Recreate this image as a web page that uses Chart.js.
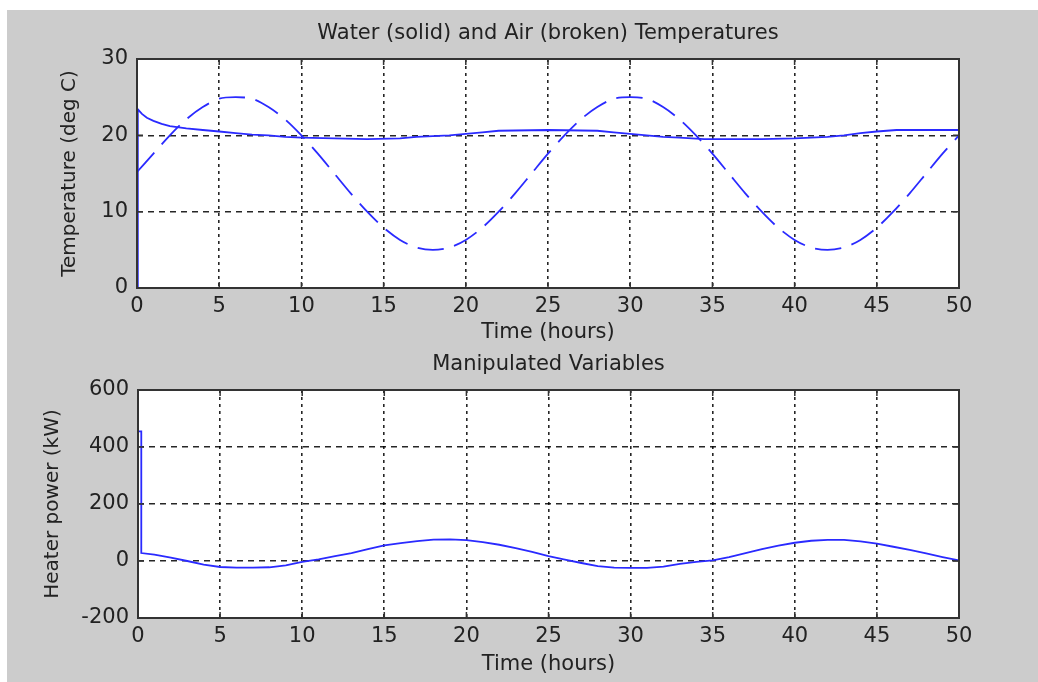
<!DOCTYPE html>
<html>
<head>
<meta charset="utf-8">
<script src="https://cdn.jsdelivr.net/npm/chart.js@4"></script>
<style>
  body { margin: 0; background: #fff; width: 1038px; height: 682px; position: relative; overflow: hidden; }
  #bg { position: absolute; left: 7px; top: 10px; right: 0; bottom: 0; background: #cccccc; }
  canvas { position: absolute; left: 0; }
  #top { top: 0; }
  #bottom { top: 345px; }
</style>
</head>
<body>
<div id="bg"></div>
<canvas id="top" width="1038" height="350"></canvas>
<canvas id="bottom" width="1038" height="337"></canvas>
<script>
// time axis ticks (hours)
const timeTicks = [0, 5, 10, 15, 20, 25, 30, 35, 40, 45, 50];

// water temperature (solid line)
const waterT = [0, 0.05, 0.3, 0.6, 1, 1.5, 2, 3, 4, 5, 6, 7, 8, 9, 10, 12, 14, 16, 17, 19, 20, 21, 22, 25, 28, 29, 30, 31, 32, 33, 34.5, 38, 40, 42, 43, 44, 45, 46.2, 50];
const waterTemp = [0, 23.4, 22.8, 22.3, 21.9, 21.5, 21.2, 20.9, 20.7, 20.5, 20.3, 20.1, 20.0, 19.8, 19.7, 19.6, 19.5, 19.6, 19.8, 20.0, 20.2, 20.4, 20.6, 20.7, 20.6, 20.4, 20.2, 20.0, 19.8, 19.7, 19.5, 19.5, 19.6, 19.8, 20.0, 20.3, 20.5, 20.7, 20.7];

// air temperature (broken line), hourly
const airT = [0, 1, 2, 3, 4, 5, 6, 7, 8, 9, 10, 11, 12, 13, 14, 15, 16, 17, 18, 19, 20, 21, 22, 23, 24, 25,
              26, 27, 28, 29, 30, 31, 32, 33, 34, 35, 36, 37, 38, 39, 40, 41, 42, 43, 44, 45, 46, 47, 48, 49, 50];
const airTemp = [15.2, 17.6, 20.0, 22.1, 23.7, 24.8, 25.0, 24.8, 23.7, 22.1, 20.0, 17.6, 15.0, 12.4, 10.0, 7.9, 6.3, 5.3, 5.0, 5.3, 6.3, 7.9, 10.0, 12.4, 15.0, 17.6,
                 20.0, 22.1, 23.7, 24.8, 25.0, 24.8, 23.7, 22.1, 20.0, 17.6, 15.0, 12.4, 10.0, 7.9, 6.3, 5.3, 5.0, 5.3, 6.3, 7.9, 10.0, 12.4, 15.0, 17.6, 20.0];

// heater power (kW)
const heaterT = [0, 0.2, 0.2, 1, 2, 3, 4, 5, 6, 7, 8, 9, 10, 11, 12, 13, 14, 15, 16, 17, 18, 19, 20, 21, 22, 23, 24, 25,
                 26, 27, 28, 29, 30, 31, 32, 33, 34, 35, 36, 37, 38, 39, 40, 41, 42, 43, 44, 45, 46, 47, 48, 49, 50];
const heaterPower = [455, 455, 28, 22, 12, 0, -13, -21, -23, -23, -22, -15, -3, 6, 17, 28, 42, 55, 63, 70, 75, 76, 73, 66, 57, 45, 32, 17,
                     5, -7, -18, -23, -24, -24, -20, -10, -3, 2, 14, 28, 42, 54, 64, 71, 74, 74, 69, 61, 50, 39, 27, 14, 2];

const blue = '#2a2aff';
const textColor = '#222';

Chart.defaults.font.family = "'DejaVu Sans', sans-serif";
Chart.defaults.font.size = 21;
Chart.defaults.color = textColor;

function pairs(xs, ys) {
    return xs.map((x, i) => ({x: x, y: ys[i]}));
}

// white plot area, solid box and inward tick marks like the original figure
const boxPlugin = {
    id: 'box',
    beforeDraw(chart) {
        const a = chart.chartArea;
        chart.ctx.save();
        chart.ctx.fillStyle = '#fff';
        chart.ctx.fillRect(a.left, a.top, a.width, a.height);
        chart.ctx.restore();
    },
    afterDraw(chart) {
        const {ctx, chartArea: a, scales} = chart;
        ctx.save();
        ctx.setLineDash([]);
        ctx.strokeStyle = '#333';
        ctx.lineWidth = 1.5;
        ctx.beginPath();
        scales.x.ticks.forEach(t => {
            const px = scales.x.getPixelForValue(t.value);
            ctx.moveTo(px, a.bottom); ctx.lineTo(px, a.bottom - 6);
            ctx.moveTo(px, a.top); ctx.lineTo(px, a.top + 6);
        });
        scales.y.ticks.forEach(t => {
            const py = scales.y.getPixelForValue(t.value);
            ctx.moveTo(a.left, py); ctx.lineTo(a.left + 6, py);
            ctx.moveTo(a.right, py); ctx.lineTo(a.right - 6, py);
        });
        ctx.stroke();
        ctx.lineWidth = 2;
        ctx.strokeRect(a.left, a.top, a.width, a.height);
        ctx.restore();
    }
};

function makeOptions(title, yTitle, yMin, yMax, yStep, yTitlePad) {
    return {
        responsive: false,
        animation: false,
        devicePixelRatio: 1,
        layout: {padding: {top: title.padTop, right: 79, bottom: 0, left: 0}},
        plugins: {
            legend: {display: false},
            tooltip: {enabled: false},
            title: {
                display: true,
                fullSize: false,
                text: title.text,
                color: textColor,
                font: {size: 21, weight: 'normal'},
                padding: {top: 0, bottom: title.padBottom}
            }
        },
        scales: {
            x: {
                type: 'linear',
                min: 0,
                max: 50,
                afterBuildTicks: s => { s.ticks = timeTicks.map(v => ({value: v})); },
                afterFit: s => { s.height = title.xHeight; },
                ticks: {padding: 6, color: textColor, font: {size: 21}},
                grid: {color: 'rgba(0,0,0,0.85)', lineWidth: 1.6, drawTicks: false},
                border: {display: false, dash: [3, 4]},
                title: {display: true, text: 'Time (hours)', color: textColor, font: {size: 21}, padding: {top: 0, bottom: 4.4}}
            },
            y: {
                min: yMin,
                max: yMax,
                afterFit: s => { s.width = title.yWidth; },
                ticks: {stepSize: yStep, padding: 9, color: textColor, font: {size: 21}},
                grid: {color: 'rgba(0,0,0,0.85)', lineWidth: 1.6, drawTicks: false},
                border: {display: false, dash: [6, 5]},
                title: {display: true, text: yTitle, color: textColor, font: {size: 20}, padding: {top: yTitlePad, bottom: 0}}
            }
        }
    };
}

let tempChart = new Chart('top', {
    type: 'scatter',
    data: {
        datasets: [
            {
                data: pairs(waterT, waterTemp),
                showLine: true, pointRadius: 0,
                borderColor: blue, borderWidth: 1.8
            },
            {
                data: pairs(airT, airTemp),
                showLine: true, pointRadius: 0, tension: 0.3,
                borderColor: blue, borderWidth: 1.8,
                borderDash: [26, 11]
            }
        ]
    },
    options: makeOptions({text: 'Water (solid) and Air (broken) Temperatures', padTop: 21.4, padBottom: 12.4, xHeight: 62, yWidth: 137},
                         'Temperature (deg C)', 0, 30, 10, 58),
    plugins: [boxPlugin]
});

let heaterChart = new Chart('bottom', {
    type: 'scatter',
    data: {
        datasets: [
            {
                data: pairs(heaterT, heaterPower),
                showLine: true, pointRadius: 0,
                borderColor: blue, borderWidth: 1.8
            }
        ]
    },
    options: makeOptions({text: 'Manipulated Variables', padTop: 7.4, padBottom: 12.4, xHeight: 64, yWidth: 138},
                         'Heater power (kW)', -200, 600, 200, 41),
    plugins: [boxPlugin]
});
</script>
</body>
</html>
